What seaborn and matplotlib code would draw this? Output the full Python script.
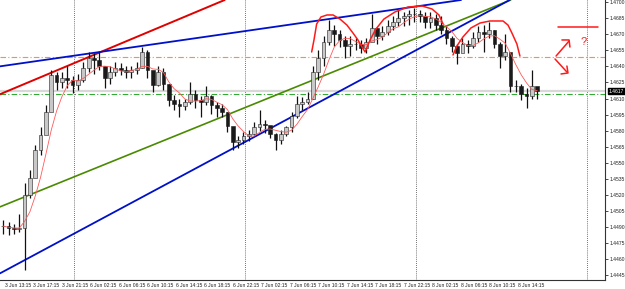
import numpy as np
import pandas as pd
import matplotlib
matplotlib.use("Agg")
import matplotlib.pyplot as plt
import matplotlib.transforms as mtransforms
import seaborn as sns

# EURUSD-like M15 chart, bars grouped by three (value = middle bar index)
high = [1.4497, 1.4495, 1.4493, 1.4502, 1.4531, 1.4543, 1.4567, 1.4583, 1.4604, 1.4637,
        1.4635, 1.4635, 1.4640, 1.4631, 1.4633, 1.4644, 1.4653, 1.4652, 1.4653, 1.4640,
        1.4640, 1.4644, 1.4643, 1.4640, 1.4640, 1.4644, 1.4658, 1.4655, 1.4635, 1.4640,
        1.4638, 1.4624, 1.4613, 1.4610, 1.4610, 1.4625, 1.4618, 1.4612, 1.4622, 1.4613,
        1.4607, 1.4605, 1.4597, 1.4583, 1.4575, 1.4579, 1.4581, 1.4588, 1.4599, 1.4590,
        1.4584, 1.4578, 1.4581, 1.4584, 1.4597, 1.4612, 1.4611, 1.4616, 1.4640, 1.4655,
        1.4668, 1.4683, 1.4679, 1.4674, 1.4668, 1.4668, 1.4666, 1.4665, 1.4666, 1.4689,
        1.4676, 1.4678, 1.4683, 1.4687, 1.4693, 1.4691, 1.4693, 1.4694, 1.4693, 1.4691,
        1.4691, 1.4689, 1.4687, 1.4678, 1.4668, 1.4661, 1.4666, 1.4665, 1.4672, 1.4678,
        1.4679, 1.4681, 1.4674, 1.4663, 1.4670, 1.4652, 1.4627, 1.4624, 1.4620, 1.4637,
        1.4620]
low = [1.4484, 1.4483, 1.4484, 1.4486, 1.4450, 1.4517, 1.4539, 1.4557, 1.4585, 1.4609,
       1.4618, 1.4620, 1.4620, 1.4615, 1.4618, 1.4625, 1.4635, 1.4633, 1.4637, 1.4620,
       1.4624, 1.4631, 1.4632, 1.4629, 1.4629, 1.4633, 1.4638, 1.4629, 1.4616, 1.4622,
       1.4618, 1.4603, 1.4599, 1.4593, 1.4599, 1.4605, 1.4601, 1.4593, 1.4604, 1.4596,
       1.4593, 1.4593, 1.4579, 1.4562, 1.4564, 1.4568, 1.4570, 1.4576, 1.4580, 1.4578,
       1.4573, 1.4562, 1.4568, 1.4575, 1.4579, 1.4592, 1.4599, 1.4605, 1.4610, 1.4627,
       1.4640, 1.4660, 1.4659, 1.4658, 1.4648, 1.4650, 1.4655, 1.4652, 1.4652, 1.4665,
       1.4661, 1.4665, 1.4669, 1.4674, 1.4678, 1.4678, 1.4679, 1.4681, 1.4681, 1.4676,
       1.4676, 1.4674, 1.4670, 1.4661, 1.4653, 1.4642, 1.4653, 1.4652, 1.4657, 1.4663,
       1.4653, 1.4666, 1.4657, 1.4638, 1.4646, 1.4616, 1.4616, 1.4609, 1.4601, 1.4610,
       1.4610]
close = [1.4491, 1.4489, 1.4488, 1.4489, 1.4520, 1.4536, 1.4562, 1.4576, 1.4597, 1.4632,
         1.4625, 1.4629, 1.4627, 1.4623, 1.4627, 1.4638, 1.4648, 1.4646, 1.4640, 1.4629,
         1.4635, 1.4638, 1.4637, 1.4635, 1.4637, 1.4638, 1.4653, 1.4637, 1.4623, 1.4635,
         1.4624, 1.4609, 1.4605, 1.4603, 1.4607, 1.4614, 1.4609, 1.4607, 1.4612, 1.4604,
         1.4601, 1.4597, 1.4584, 1.4569, 1.4571, 1.4575, 1.4577, 1.4583, 1.4586, 1.4585,
         1.4577, 1.4571, 1.4577, 1.4583, 1.4594, 1.4605, 1.4607, 1.4610, 1.4635, 1.4648,
         1.4663, 1.4674, 1.4670, 1.4665, 1.4659, 1.4661, 1.4661, 1.4657, 1.4663, 1.4676,
         1.4668, 1.4672, 1.4678, 1.4681, 1.4685, 1.4687, 1.4689, 1.4689, 1.4687, 1.4681,
         1.4685, 1.4679, 1.4674, 1.4666, 1.4659, 1.4652, 1.4661, 1.4659, 1.4666, 1.4672,
         1.4670, 1.4674, 1.4661, 1.4650, 1.4653, 1.4622, 1.4622, 1.4614, 1.4612, 1.4622,
         1.4617]

time_labels = ["3 Jun 13:15", "3 Jun 17:15", "3 Jun 21:15", "6 Jun 02:15", "6 Jun 06:15",
               "6 Jun 10:15", "6 Jun 14:15", "6 Jun 18:15", "6 Jun 22:15", "7 Jun 02:15",
               "7 Jun 06:15", "7 Jun 10:15", "7 Jun 14:15", "7 Jun 18:15", "7 Jun 22:15",
               "8 Jun 02:15", "8 Jun 06:15", "8 Jun 10:15", "8 Jun 14:15"]
day_starts = [39, 135, 231, 327]          # bar index of each new day
price_ticks = [1.4445 + 0.0015 * k for k in range(18)]
last_price = 1.4617

# hand drawn objects, (bar, price)
trend_red = [(-2.8, 1.4614), (123.6, 1.4702)]
trend_blue_top = [(-2.8, 1.4640), (256.8, 1.4702)]
trend_green = [(-2.8, 1.4509), (284.3, 1.4702)]
trend_blue_low = [(-2.8, 1.4447), (283.7, 1.4702)]
level_orange = 1.4649
level_green = 1.4614

arc_head = [(172.3, 1.46534), (173.6, 1.46646), (175.1, 1.46795), (177.5, 1.46860),
            (180.9, 1.46879), (184.3, 1.46879), (188.2, 1.46841), (192.1, 1.46785),
            (195.5, 1.46711), (198.3, 1.46646), (200.6, 1.46580), (202.3, 1.46534),
            (205.1, 1.46646), (208.4, 1.46748), (212.9, 1.46841), (219.1, 1.46907),
            (226.4, 1.46953), (234.3, 1.46963), (239.9, 1.46935), (243.8, 1.46879),
            (246.1, 1.46795)]
arc_shoulder = [(251.7, 1.46506), (253.9, 1.46590), (257.3, 1.46674), (261.8, 1.46758),
                (266.9, 1.46804), (272.5, 1.46823), (279.8, 1.46823), (282.6, 1.46785),
                (284.8, 1.46711), (287.6, 1.46608), (289.3, 1.46496)]
target_line = [(310.7, 1.46771), (333.2, 1.46771)]
arrow_up = [(309.6, 1.46496), (316.9, 1.46636)]
arrow_up_head = [(312.9, 1.46646), (316.9, 1.46646), (317.4, 1.46580)]
arrow_dn = [(309.0, 1.46469), (315.7, 1.46347)]
arrow_dn_head = [(312.4, 1.46329), (316.3, 1.46338), (315.7, 1.46403)]
question = (325.3, 1.46627)

df = pd.DataFrame({"high": high, "low": low, "close": close})
df["bar"] = -1 + 3 * np.arange(len(df))
df["open"] = df["close"].shift(1).fillna(df["close"].iloc[0])
df["ma"] = df["close"].rolling(5, min_periods=1).mean()

sns.set_theme(style="white")
plt.rcParams["font.family"] = ["Liberation Sans Narrow", "Liberation Sans", "DejaVu Sans"]

fig = plt.figure(figsize=(6.25, 2.89), dpi=100)
ax = fig.add_axes([0, 9 / 289, 605 / 625, 280 / 289])

# day separators
for d in day_starts:
    ax.axvline(d, color="#444444", lw=0.6, dashes=(1, 1.5), zorder=1)

# bid line and levels
ax.axhline(last_price, color="#d8d8d8", lw=1.6, zorder=1)
ax.axhline(level_orange, color="#f59050", lw=0.8, dashes=(5, 2, 1, 2), zorder=1)
ax.axhline(level_green, color="#33aa33", lw=0.8, dashes=(5, 2, 1, 2), zorder=1)

# candles
ax.vlines(df["bar"], df["low"], df["high"], color="#111111", lw=0.9, zorder=3)
up = df["close"] >= df["open"]
ax.bar(df["bar"][up], (df["close"] - df["open"])[up], bottom=df["open"][up], width=2.1,
       color="#c8c8c8", edgecolor="#222222", linewidth=0.4, zorder=4)
ax.bar(df["bar"][~up], (df["close"] - df["open"])[~up], bottom=df["open"][~up], width=2.1,
       color="#1a1a1a", edgecolor="#1a1a1a", linewidth=0.4, zorder=4)

sns.lineplot(data=df, x="bar", y="ma", ax=ax, color="#ff5a5a", lw=0.6, zorder=5)

# trend lines
ax.axline(*trend_red, color="#e00000", lw=1.4, zorder=2)
ax.axline(*trend_blue_top, color="#0010c8", lw=1.3, zorder=2)
ax.axline(*trend_green, color="#4a8a00", lw=1.2, zorder=2)
ax.axline(*trend_blue_low, color="#0010c8", lw=1.3, zorder=2)

# red sketches
for path in [arc_head, arc_shoulder, target_line, arrow_up, arrow_up_head, arrow_dn, arrow_dn_head]:
    xs, ys = zip(*path)
    ax.plot(xs, ys, color="#ff1a1a", lw=1.1, zorder=6, solid_capstyle="round")
ax.text(question[0], question[1], "?", color="#ff1a1a", fontsize=8, ha="center", va="center", zorder=6)

ax.set_xlim(-2.8, 337.1)
ax.set_ylim(1.44408, 1.470186)

ax.set_xticks(np.arange(0, 16 * len(time_labels), 16))
ax.set_xticklabels(time_labels, fontsize=3.6, ha="left")
ax.yaxis.tick_right()
ax.set_yticks(price_ticks)
ax.set_yticklabels(["%.4f" % p for p in price_ticks], fontsize=3.6)
ax.tick_params(axis="both", length=2, width=0.5, pad=1, color="black", colors="#222222")
ax.tick_params(axis="x", length=1.5, pad=0.5)
ax.set_xlabel("")
ax.set_ylabel("")
for s in ["left", "top"]:
    ax.spines[s].set_visible(False)
for s in ["right", "bottom"]:
    ax.spines[s].set_color("#333333")
    ax.spines[s].set_linewidth(0.8)

trans = mtransforms.blended_transform_factory(ax.transAxes, ax.transData)
ax.text(1.006, last_price, "1.4617", transform=trans, fontsize=3.6, color="white",
        va="center", ha="left", bbox=dict(facecolor="black", edgecolor="black", pad=0.6))

fig.savefig("out.png", dpi=100, facecolor="white")
